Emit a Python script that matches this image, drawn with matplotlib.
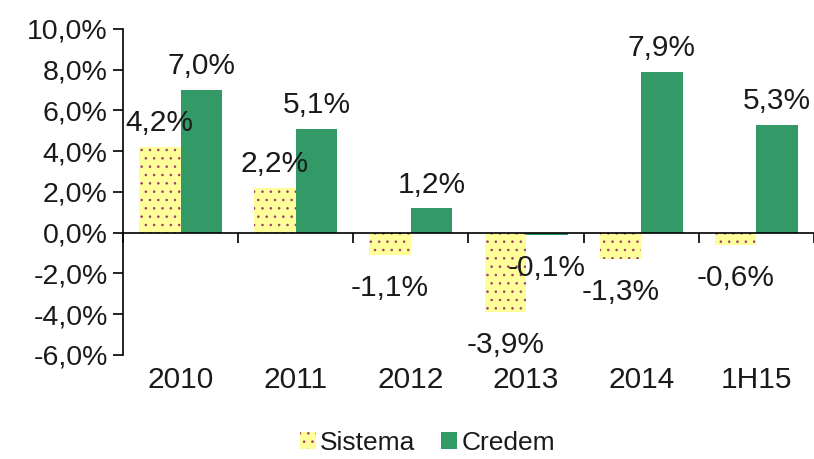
import matplotlib.pyplot as plt
import matplotlib.transforms as mtransforms
from matplotlib.patches import Patch
import numpy as np

plt.rcParams['font.family'] = ['Liberation Sans', 'DejaVu Sans']
plt.rcParams['hatch.linewidth'] = 0.6

categories = ["2010", "2011", "2012", "2013", "2014", "1H15"]
sistema = [4.2, 2.2, -1.1, -3.9, -1.3, -0.6]
credem = [7.0, 5.1, 1.2, -0.1, 7.9, 5.3]
yticks = [-6, -4, -2, 0, 2, 4, 6, 8, 10]

YELLOW = "#FFFF99"
DOTS = "#9B3B6B"
GREEN = "#339966"
TXT = "#1a1a1a"

fig = plt.figure(figsize=(8.14, 4.59), dpi=100)
ax = fig.add_axes([0.151, 0.227, 0.849, 0.71])

x = np.arange(len(categories))
w = 0.36
ax.bar(x - w / 2, sistema, w, color=YELLOW, edgecolor=DOTS, linewidth=0, hatch="..")
ax.bar(x + w / 2, credem, w, color=GREEN, linewidth=0)

# data labels: above positive bars, below negative ones
for xs, vals in ((x - w / 2, sistema), (x + w / 2, credem)):
    for xi, v in zip(xs, vals):
        dy = 17 if v >= 0 else -24
        ax.annotate(f"{v:.1f}%".replace(".", ","), (xi, v), xytext=(0, dy),
                    textcoords="offset points", ha="center", va="center",
                    fontsize=21.5, color=TXT)

ax.set_xlim(-0.5, len(categories) - 0.5)
ax.set_ylim(-6, 10)
ax.set_yticks(yticks)
ax.set_yticklabels([f"{t:.1f}%".replace(".", ",") for t in yticks], fontsize=20.5, color=TXT)

ax.spines["top"].set_visible(False)
ax.spines["right"].set_visible(False)
ax.spines["bottom"].set_position(("data", 0))
ax.spines["left"].set_linewidth(1.2)
ax.spines["bottom"].set_linewidth(1.2)
ax.set_xticks(np.arange(len(categories) + 1) - 0.5)
ax.set_xticklabels([])
ax.tick_params(axis="x", direction="out", length=7, width=1.2)
ax.tick_params(axis="y", direction="out", length=7, width=1.2, pad=4)

trans = mtransforms.blended_transform_factory(ax.transData, ax.transAxes)
for xi, c in zip(x, categories):
    ax.text(xi, -0.077, c, transform=trans, ha="center", va="center",
            fontsize=21.5, color=TXT)

handles = [Patch(facecolor=YELLOW, edgecolor=DOTS, linewidth=0, hatch=".."),
           Patch(facecolor=GREEN, linewidth=0)]
fig.legend(handles, ["Sistema", "Credem"], loc="center", bbox_to_anchor=(0.525, 0.035),
           ncol=2, frameon=False, fontsize=19, handlelength=0.6, handleheight=0.6,
           handletextpad=0.15, columnspacing=1.0, labelcolor=TXT, borderpad=0.2)

fig.savefig("out.png", dpi=100)
